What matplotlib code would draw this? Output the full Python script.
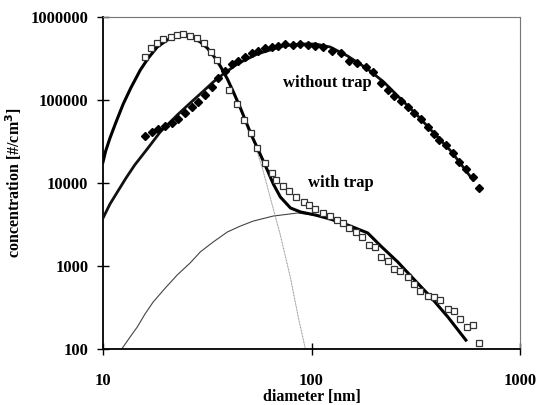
import matplotlib
matplotlib.use("Agg")
import matplotlib.pyplot as plt
from matplotlib.ticker import FixedLocator, FuncFormatter, NullLocator

# measured points, with trap (open squares)
trap_d = [15.9, 17.0, 18.2, 19.4, 21.2, 22.7, 24.3, 26.2, 28.3, 30.6, 33.0, 35.3,
          40.4, 44.1, 47.6, 51.5, 55.0, 60.1, 64.3, 67.9, 73.3, 78.4, 84.7, 91.6,
          97.8, 104.5, 113, 122, 132, 141, 151, 163, 174, 188, 201, 215, 232, 248,
          265, 290, 309, 330, 361, 386, 412, 451, 482, 515, 556, 594, 635]
trap_n = [330000, 424000, 486000, 543000, 574000, 607000, 624000, 590000, 558000,
          486000, 379000, 303000, 132000, 89500, 57400, 40000, 26400, 17400, 13200,
          10900, 9200, 8010, 6780, 5900, 5430, 4860, 4350, 4000, 3580, 3300, 2870,
          2570, 2230, 1790, 1690, 1280, 1150, 920, 870, 736, 607, 500, 435, 423, 389,
          303, 287, 230, 184, 194, 118]

# measured points, without trap (filled diamonds)
notrap_d = [15.9, 17.2, 18.4, 19.9, 21.5, 22.9, 24.8, 26.8, 28.6, 30.9, 33.4, 35.7,
            38.6, 41.7, 44.6, 48.2, 52.0, 55.6, 60.1, 64.9, 69.4, 75.0, 81.9, 88.5,
            95.7, 104.5, 114, 126, 138, 151, 166, 182, 197, 215, 232, 248, 268, 290,
            309, 334, 361, 386, 408, 441, 477, 509, 550, 594, 635]
notrap_n = [36800, 41100, 44800, 48600, 52800, 59000, 69700, 82400, 94600, 115000,
            144000, 184000, 223000, 272000, 295000, 330000, 368000, 389000, 424000,
            435000, 448000, 473000, 460000, 473000, 460000, 448000, 435000, 389000,
            368000, 295000, 279000, 250000, 217000, 160000, 132000, 112000, 97300,
            82400, 69700, 59000, 47300, 38900, 33000, 28700, 23000, 17900, 14800,
            11800, 8710]

# fitted curves
fit_trap_d = [10.0, 10.3, 10.8, 11.55, 12.5, 13.6, 15.1, 16.5, 18.2, 20.3, 22.7, 24.8,
              27.1, 29.3, 31.6, 34.2, 36.5, 39.5, 42.2, 45.6, 49.2, 52.0, 55.0, 58.1,
              61.4, 65.6, 70.9, 79.3, 88.5, 104.5, 123, 149, 186, 215, 259, 309, 373,
              451, 550]
fit_trap_n = [17900, 24300, 34800, 54300, 89500, 140000, 230000, 321000, 435000,
              528000, 590000, 590000, 558000, 500000, 424000, 330000, 257000, 179000,
              125000, 80100, 50000, 35800, 26400, 19500, 14300, 9730, 6780, 5000, 4480,
              4110, 3680, 3120, 2500, 1740, 1120, 697, 423, 243, 128]

fit_notrap_d = [10.0, 10.8, 11.8, 12.9, 14.2, 16.3, 18.8, 22.7, 26.2, 30.3, 33.8, 37.8,
                44.1, 55.0, 73.3, 88.5, 104.5, 123, 149, 186, 222, 268, 324, 386, 466,
                538, 594]
fit_notrap_n = [3775, 5580, 8010, 11500, 16500, 25700, 41100, 65900, 92000, 128000,
                165000, 206000, 272000, 358000, 448000, 473000, 473000, 435000, 339000,
                236000, 165000, 103000, 64100, 40000, 24300, 15200, 10900]

# first (small) mode alone, where it leaves the sum curve
mode1_d = [49.2, 52.6, 58.1, 63.5, 70.9, 79.3, 86.6, 93.5]
mode1_n = [46600, 33000, 15200, 6590, 2360, 716, 236, 100]

# second (large) mode alone
mode2_d = [12.3, 13.5, 14.6, 15.9, 17.4, 19.9, 22.7, 26.2, 29.3, 33.8, 39.5, 45.6,
           52.6, 65.6, 85.7, 102, 123]
mode2_n = [100, 140, 184, 264, 368, 543, 780, 1090, 1480, 1950, 2570, 3030, 3480,
           4000, 4350, 4110, 3680]

yticks = [100, 1000, 10000, 100000, 1000000]
xticks = [10, 100, 1000]

plt.rcParams['font.family'] = ['Liberation Serif', 'DejaVu Serif']
plt.rcParams['font.weight'] = 'bold'

fig = plt.figure(figsize=(5.38, 4.05), dpi=100)
ax = fig.add_axes([103 / 538, 56 / 405, 417 / 538, 332 / 405])

ax.plot(mode2_d, mode2_n, color='#444444', lw=0.8, zorder=2)
ax.plot(mode1_d, mode1_n, color='#888888', lw=0.7, ls=(0, (1, 0.6)), zorder=2)
ax.plot(fit_notrap_d, fit_notrap_n, color='#111111', lw=2.0, zorder=3)
ax.plot(fit_trap_d, fit_trap_n, color='black', lw=2.2, zorder=3)

ax.plot(trap_d, trap_n, ls='none', marker='s', ms=5, mfc='white', mec='#333333',
        mew=0.9, zorder=4)
ax.plot(notrap_d, notrap_n, ls='none', marker='D', ms=3.8, mfc='black', mec='black',
        zorder=4)

ax.set_xscale('log')
ax.set_yscale('log')
ax.set_xlim(10, 1000)
ax.set_ylim(100, 1000000)

ax.xaxis.set_major_locator(FixedLocator(xticks))
ax.yaxis.set_major_locator(FixedLocator(yticks))
ax.xaxis.set_minor_locator(NullLocator())
ax.yaxis.set_minor_locator(NullLocator())
fmt = FuncFormatter(lambda v, p: "%d" % round(v))
ax.xaxis.set_major_formatter(fmt)
ax.yaxis.set_major_formatter(fmt)
ax.tick_params(axis='both', direction='inout', length=9, width=1.0, labelsize=12)
ax.tick_params(axis='x', pad=13)
ax.tick_params(axis='y', pad=6)

for side in ['left', 'bottom']:
    ax.spines[side].set_linewidth(1.3)
    ax.spines[side].set_color('black')
for side in ['top', 'right']:
    ax.spines[side].set_linewidth(0.8)
    ax.spines[side].set_color('#777777')
    ax.spines[side].set_linestyle((0, (1, 0.5)))

ax.text(73.3, 160000, "without trap", fontsize=12, fontweight='bold',
        ha='left', va='center')
ax.text(95.7, 10000, "with trap", fontsize=12, fontweight='bold',
        ha='left', va='center')

ax.set_xlabel("diameter [nm]", fontsize=11.5, fontweight='bold', labelpad=0)
ax.set_ylabel("concentration [#/cm$^\\mathbf{3}$]", fontsize=11.5, fontweight='bold',
              labelpad=5)

fig.savefig("out.png", dpi=100)
